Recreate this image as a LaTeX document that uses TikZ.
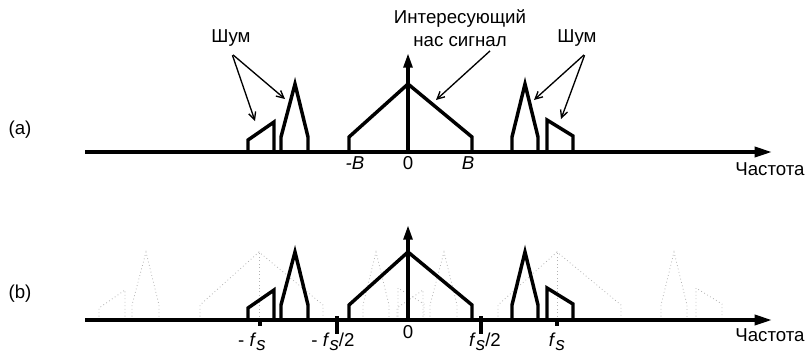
\documentclass[tikz,border=0pt]{standalone}
\usepackage{fontspec}
\setmainfont{Liberation Sans}
\usetikzlibrary{arrows.meta}
\newcommand\spectrumshapes[1]{%
  \draw[#1] (248,0)--(248,-12)--(274,-30)--(274,0);
  \draw[#1] (281,0)--(281,-15)--(295,-68)--(308,-15)--(308,0);
  \draw[#1] (349,0)--(349,-15)--(408,-68)--(472,-15)--(472,0);
  \draw[#1] (512,0)--(512,-15)--(525,-68)--(538,-15)--(538,0);
  \draw[#1] (547,0)--(547,-32)--(573,-16)--(573,0);
}
\newcommand\fsym{\textit{f}\raisebox{-0.45ex}{\textit{s}}}
\begin{document}
\begin{tikzpicture}[x=0.75pt,y=-0.75pt,
  spec/.style={line width=2.6pt, line join=miter},
  ghost/.style={black!30, dotted, line width=0.6pt},
  axisline/.style={line width=2.6pt, -{Triangle[length=13pt,width=7.5pt]}},
  upline/.style={line width=2.6pt, -{Triangle[length=11pt,width=6.5pt]}},
  ann/.style={line width=1pt, -{Straight Barb[length=5.5pt,width=5.5pt]}, shorten <=1pt},
  lbl/.style={font=\fontsize{14}{17}\selectfont, inner sep=1pt},
  tick/.style={line width=2.6pt}]
\useasboundingbox (0,0) rectangle (809,355);

% ---------- panel (a) ----------
\node[lbl] (la) at (20,130) {(a)};
\coordinate (a0) at (85,152);
\coordinate (a1) at (772,152);
\draw[axisline] (a0) -- (a1);
\begin{scope}[shift={(0,152)}]
  \spectrumshapes{spec}
\end{scope}
\coordinate (za) at (408,152);
\coordinate (zat) at (408,53);
\draw[upline] (za) -- (zat);
\node[lbl] (ma) at (355,163) {\textit{-B}};
\node[lbl] (za0) at (408,163) {0};
\node[lbl] (pa) at (468,163) {\textit{B}};
\node[lbl] (fa) at (770,169) {Частота};

\node[lbl] (noiseL) at (231,38) {Шум};
\node[lbl] (noiseR) at (577,38) {Шум};
\node[lbl, align=center] (sig) at (460,28) {Интересующий\\нас сигнал};
\coordinate (sL) at (232,54);
\coordinate (sR) at (585,54);
\coordinate (sS) at (491,50);
\coordinate (tA) at (255,121);
\coordinate (tB) at (285,99);
\coordinate (tS) at (436,100);
\coordinate (tC) at (534,100);
\coordinate (tD) at (561,119);
\draw[ann] (sL) -- (tA);
\draw[ann] (sL) -- (tB);
\draw[ann] (sS) -- (tS);
\draw[ann] (sR) -- (tC);
\draw[ann] (sR) -- (tD);

% ---------- panel (b) ----------
\node[lbl] (lb) at (20,294) {(b)};
\begin{scope}[shift={(-149,320)}]
  \spectrumshapes{ghost}
  \draw[ghost] (408,0) -- (408,-68);
\end{scope}
\begin{scope}[shift={(149,320)}]
  \spectrumshapes{ghost}
  \draw[ghost] (408,0) -- (408,-68);
\end{scope}
\coordinate (b0) at (85,320);
\coordinate (b1) at (772,320);
\draw[axisline] (b0) -- (b1);
\begin{scope}[shift={(0,320)}]
  \spectrumshapes{spec}
\end{scope}
\coordinate (zb) at (408,320);
\coordinate (zbt) at (408,225);
\draw[upline] (zb) -- (zbt);
\coordinate (k1a) at (260,320); \coordinate (k1b) at (260,326);
\coordinate (k2a) at (337,316); \coordinate (k2b) at (337,334);
\coordinate (k3a) at (481,316); \coordinate (k3b) at (481,334);
\coordinate (k4a) at (557,320); \coordinate (k4b) at (557,326);
\draw[tick] (k1a) -- (k1b);
\draw[tick] (k2a) -- (k2b);
\draw[tick] (k3a) -- (k3b);
\draw[tick] (k4a) -- (k4b);
\node[lbl] (nfs) at (252,342) {- \fsym};
\node[lbl] (nfs2) at (333,342) {- \fsym/2};
\node[lbl] (zb0) at (408,332) {0};
\node[lbl] (pfs2) at (485,342) {\fsym/2};
\node[lbl] (pfs) at (557,342) {\fsym};
\node[lbl] (fb) at (770,335) {Частота};
\end{tikzpicture}
\end{document}
